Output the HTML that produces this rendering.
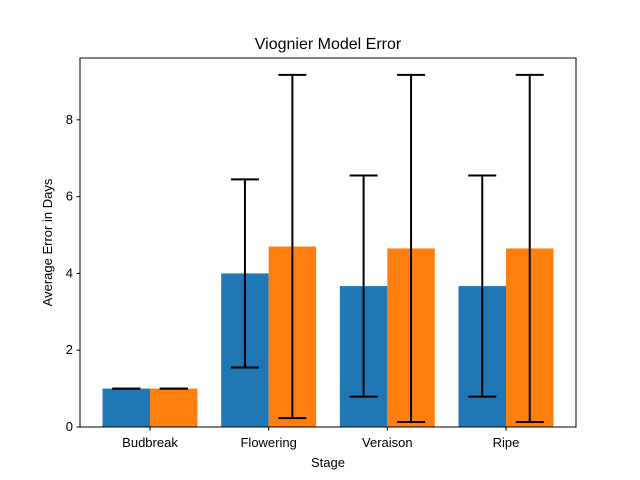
<!DOCTYPE html>
<html><head><meta charset="utf-8"><style>body{margin:0;background:#fff}svg{display:block;font-family:"Liberation Sans","DejaVu Sans",sans-serif}</style></head>
<body>
<svg id="chart" width="640" height="480" xmlns="http://www.w3.org/2000/svg">
<rect width="640" height="480" fill="#fff"/>
<g id="plot"></g>
</svg>
<script>
const categories = ["Budbreak","Flowering","Veraison","Ripe"];
const seriesA = [1.0, 4.0, 3.67, 3.67];
const errA = [0.0, 2.45, 2.88, 2.88];
const seriesB = [1.0, 4.7, 4.65, 4.65];
const errB = [0.0, 4.47, 4.52, 4.52];
const yTicks = [0,2,4,6,8];

const L=80,R=576,T=58,B=427;
const xmin=-0.59,xmax=3.59,ymin=0,ymax=9.61;
const xs=v=>L+(v-xmin)/(xmax-xmin)*(R-L);
const ys=v=>B-(v-ymin)/(ymax-ymin)*(B-T);
const NS="http://www.w3.org/2000/svg";
const g=document.getElementById('plot');
function mk(t,a,p){const e=document.createElementNS(NS,t);for(const k in a)e.setAttribute(k,a[k]);(p||g).appendChild(e);return e;}
const w=0.4;
function bars(vals,errs,off,color,nm){
  vals.forEach((v,i)=>{
    const x0=xs(i+off-w/2),x1=xs(i+off+w/2);
    const r=mk('rect',{x:x0,y:ys(v),width:x1-x0,height:ys(0)-ys(v),fill:color});
    
    
  });
  vals.forEach((v,i)=>{
    const cx=xs(i+off),lo=ys(Math.max(0,v-errs[i])),hi=ys(v+errs[i]);
    const eg=mk('g',{stroke:'#000','stroke-width':2});
    
    
    mk('line',{x1:cx,x2:cx,y1:lo,y2:hi},eg);
    mk('line',{x1:cx-14,x2:cx+14,y1:lo,y2:lo},eg);
    mk('line',{x1:cx-14,x2:cx+14,y1:hi,y2:hi},eg);
  });
}
bars(seriesA,errA,-0.2,'#1f77b4','series-a');
bars(seriesB,errB,0.2,'#ff7f0e','series-b');
const frame=mk('rect',{x:L,y:T,width:R-L,height:B-T,fill:'none',stroke:'#000','stroke-width':1});


yTicks.forEach(t=>{
  const y=ys(t);
  mk('line',{x1:L-3.5,x2:L,y1:y,y2:y,stroke:'#000'});
  const tx=mk('text',{x:L-7,y:y+4,'text-anchor':'end','font-size':13});
  tx.textContent=t;
  
  
});
categories.forEach((c,i)=>{
  const x=xs(i);
  mk('line',{x1:x,x2:x,y1:B,y2:B+3.5,stroke:'#000'});
  const tx=mk('text',{x:x,y:B+20,'text-anchor':'middle','font-size':13});
  tx.textContent=c;
  
  
});
let t=mk('text',{x:(L+R)/2,y:49,'text-anchor':'middle','font-size':16});t.textContent='Viognier Model Error';


t=mk('text',{x:(L+R)/2,y:467,'text-anchor':'middle','font-size':13});t.textContent='Stage';


t=mk('text',{x:52,y:(T+B)/2,'text-anchor':'middle','font-size':13,transform:`rotate(-90 52 ${(T+B)/2})`});t.textContent='Average Error in Days';


</script>
</body></html>
